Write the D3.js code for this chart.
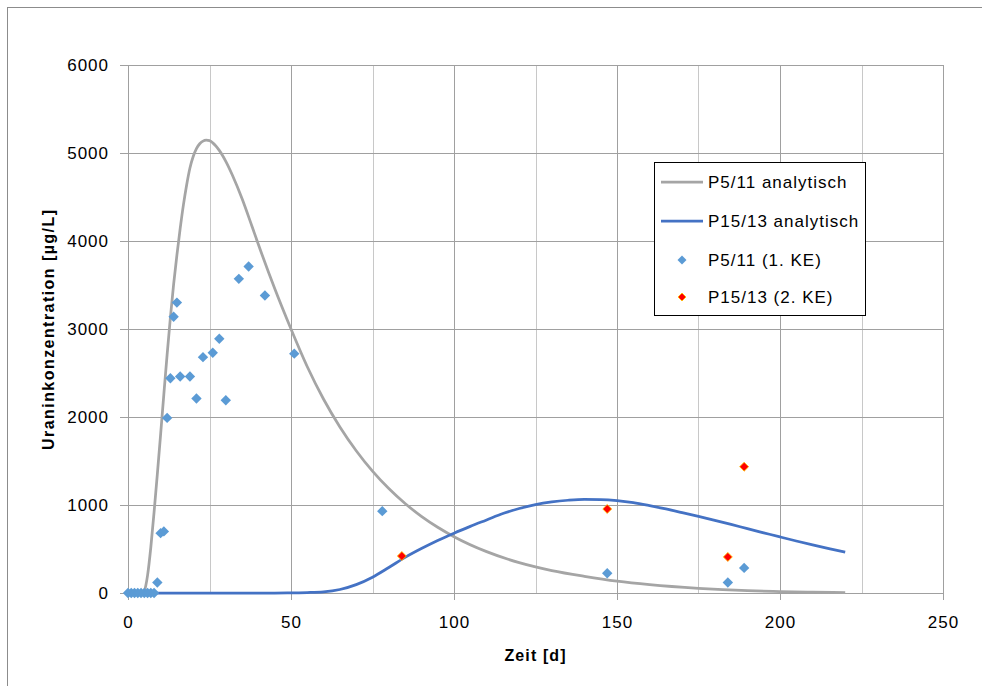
<!DOCTYPE html>
<html>
<head>
<meta charset="utf-8">
<script src="https://cdn.jsdelivr.net/npm/d3@7"></script>
<style>
  html, body { margin: 0; padding: 0; background: #fff; }
  svg { display: block; }
  text { font-family: "Liberation Sans", Arial, sans-serif; fill: #000; }
</style>
</head>
<body>
<svg id="chart" width="982" height="686"></svg>
<script>
// Analytical solution, well P5/11 (day, µg/L)
const p511AnaDays = [0, 2, 4, 4.7, 5, 6, 7, 8, 9, 10, 11, 12, 13, 14, 15, 16, 17, 18, 19, 20, 21, 22, 23, 24, 25, 26, 27, 28, 29, 30, 32, 35, 38, 40, 45, 50, 55, 60, 65, 70, 75, 80, 85, 90, 95, 100, 110, 120, 125, 130, 140, 150, 160, 175, 190, 200, 210, 220];
const p511AnaVals = [0, 0, 0, 0, 20, 200, 520, 920, 1350, 1800, 2260, 2710, 3130, 3510, 3840, 4140, 4410, 4640, 4830, 4960, 5050, 5105, 5135, 5145, 5140, 5115, 5078, 5030, 4972, 4905, 4750, 4480, 4170, 3960, 3460, 3000, 2571, 2202, 1887, 1617, 1385, 1187, 1017, 871, 747, 640, 470, 345, 296, 255, 190, 135, 95, 53, 26, 16, 9, 5];

// Analytical solution, well P15/13
const p1513AnaDays = [0, 10, 20, 30, 40, 45, 50, 55, 60, 65, 70, 75, 80, 85, 90, 95, 100, 105, 110, 115, 120, 125, 130, 135, 140, 145, 150, 155, 160, 165, 170, 175, 180, 185, 190, 195, 200, 205, 210, 215, 220];
const p1513AnaVals = [0, 0, 0, 0, 0, 0, 2, 5, 13, 40, 95, 180, 290, 405, 505, 597, 680, 757, 830, 903, 960, 1005, 1035, 1054, 1064, 1062, 1050, 1027, 993, 955, 913, 870, 825, 779, 731, 684, 637, 591, 547, 505, 465];

// Measurements P5/11 (1. KE)
const p511MeasDays = [0, 1, 2, 3, 4, 5, 6, 7, 8, 9, 10, 11, 12, 13, 14, 15, 16, 19, 21, 23, 26, 28, 30, 34, 37, 42, 51, 78, 147, 184, 189];
const p511MeasVals = [0, 0, 0, 0, 0, 0, 0, 0, 0, 120, 680, 700, 1990, 2440, 3140, 3300, 2460, 2460, 2210, 2680, 2730, 2890, 2190, 3570, 3710, 3380, 2720, 930, 225, 120, 285];

// Measurements P15/13 (2. KE)
const p1513MeasDays = [84, 147, 184, 189];
const p1513MeasVals = [420, 955, 410, 1435];

// Axis ticks
const xMajorTicks = [0, 50, 100, 150, 200, 250];
const xMinorTicks = [25, 75, 125, 175, 225];
const yTicks = [0, 1000, 2000, 3000, 4000, 5000, 6000];

const legendLabels = ["P5/11 analytisch", "P15/13 analytisch", "P5/11 (1. KE)", "P15/13 (2. KE)"];

const colGray = "#a5a5a5";
const colBlueLine = "#4472c4";
const colBlueMark = "#5b9bd5";
const colRed = "#ff0000";
const colRedEdge = "#ffc000";

const svg = d3.select("#chart");

// chart frame
svg.append("rect")
  .attr("x", 7.5).attr("y", 7.5)
  .attr("width", 1000).attr("height", 1000)
  .attr("fill", "#fff").attr("stroke", "#8c8c8c").attr("stroke-width", 1);

const plot = { left: 128, right: 943, top: 65, bottom: 593 };

const x = d3.scaleLinear().domain([0, 250]).range([plot.left, plot.right]);
const y = d3.scaleLinear().domain([0, 6000]).range([plot.bottom, plot.top]);

const grid = svg.append("g").attr("shape-rendering", "crispEdges");

// vertical gridlines
grid.selectAll("line.vmin").data(xMinorTicks).join("line")
  .attr("x1", d => Math.round(x(d)) + 0.5).attr("x2", d => Math.round(x(d)) + 0.5)
  .attr("y1", plot.top).attr("y2", plot.bottom)
  .attr("stroke", "#c8c8c8").attr("stroke-width", 1);
grid.selectAll("line.vmaj").data(xMajorTicks).join("line")
  .attr("x1", d => Math.round(x(d)) + 0.5).attr("x2", d => Math.round(x(d)) + 0.5)
  .attr("y1", plot.top).attr("y2", plot.bottom + 7)
  .attr("stroke", "#a0a0a0").attr("stroke-width", 1);

// horizontal gridlines with left ticks
grid.selectAll("line.h").data(yTicks).join("line")
  .attr("x1", plot.left - 8).attr("x2", plot.right)
  .attr("y1", d => Math.round(y(d)) + 0.5).attr("y2", d => Math.round(y(d)) + 0.5)
  .attr("stroke", "#a0a0a0").attr("stroke-width", 1);

// axes (labels only; lines drawn above as gridlines)
const xAxis = d3.axisBottom(x).tickValues(xMajorTicks).tickSize(0).tickPadding(0).tickFormat(d3.format("d"));
const gx = svg.append("g").attr("transform", `translate(0,${plot.bottom})`).call(xAxis);
gx.select(".domain").remove();
gx.selectAll("text")
  .attr("y", 35).attr("dy", null)
  .style("font-family", "'Liberation Sans', Arial, sans-serif")
  .style("font-size", "17px").style("letter-spacing", "1px").attr("fill", "#000");

const yAxis = d3.axisLeft(y).tickValues(yTicks).tickSize(0).tickPadding(0).tickFormat(d3.format("d"));
const gy = svg.append("g").attr("transform", `translate(${plot.left},0)`).call(yAxis);
gy.select(".domain").remove();
gy.selectAll("text")
  .attr("x", -19).attr("dy", "0.35em")
  .style("font-family", "'Liberation Sans', Arial, sans-serif")
  .style("font-size", "17px").style("letter-spacing", "1px").attr("fill", "#000");

// axis titles
svg.append("text")
  .attr("x", 535).attr("y", 661)
  .attr("text-anchor", "middle")
  .style("font-size", "16px").style("font-weight", "bold")
  .attr("textLength", 61).attr("lengthAdjust", "spacing")
  .text("Zeit [d]");

svg.append("text")
  .attr("transform", "translate(54,330) rotate(-90)")
  .attr("text-anchor", "middle")
  .style("font-size", "16px").style("font-weight", "bold")
  .attr("textLength", 240).attr("lengthAdjust", "spacing")
  .text("Uraninkonzentration  [µg/L]");

// analytical curves
const line = d3.line().x(d => x(d[0])).y(d => y(d[1])).curve(d3.curveMonotoneX);

svg.append("path")
  .datum(d3.zip(p511AnaDays, p511AnaVals))
  .attr("d", line)
  .attr("fill", "none").attr("stroke", colGray).attr("stroke-width", 2.75)
  .attr("stroke-linejoin", "round");

svg.append("path")
  .datum(d3.zip(p1513AnaDays, p1513AnaVals))
  .attr("d", line)
  .attr("fill", "none").attr("stroke", colBlueLine).attr("stroke-width", 2.75)
  .attr("stroke-linejoin", "round");

// measurement markers (diamonds)
const diamondBlue = d3.symbol(d3.symbolSquare, 54)();
const diamondRed = d3.symbol(d3.symbolSquare, 40)();

svg.append("g").selectAll("path")
  .data(d3.zip(p511MeasDays, p511MeasVals)).join("path")
  .attr("d", diamondBlue)
  .attr("transform", d => `translate(${x(d[0])},${y(d[1])}) rotate(45)`)
  .attr("fill", colBlueMark);

svg.append("g").selectAll("path")
  .data(d3.zip(p1513MeasDays, p1513MeasVals)).join("path")
  .attr("d", diamondRed)
  .attr("transform", d => `translate(${x(d[0])},${y(d[1])}) rotate(45)`)
  .attr("fill", colRed).attr("stroke", colRedEdge).attr("stroke-width", 0.8);

// legend
const lg = svg.append("g");
lg.append("rect")
  .attr("x", 654.5).attr("y", 162.5).attr("width", 211).attr("height", 153)
  .attr("fill", "#fff").attr("stroke", "#000").attr("stroke-width", 1)
  .attr("shape-rendering", "crispEdges");

const rowY = [182, 221, 260, 297];
lg.append("line").attr("x1", 661).attr("x2", 703).attr("y1", rowY[0]).attr("y2", rowY[0])
  .attr("stroke", colGray).attr("stroke-width", 2.75);
lg.append("line").attr("x1", 661).attr("x2", 703).attr("y1", rowY[1]).attr("y2", rowY[1])
  .attr("stroke", colBlueLine).attr("stroke-width", 2.75);
lg.append("path").attr("d", d3.symbol(d3.symbolSquare, 40)())
  .attr("transform", `translate(682,${rowY[2]}) rotate(45)`).attr("fill", colBlueMark);
lg.append("path").attr("d", d3.symbol(d3.symbolSquare, 32)())
  .attr("transform", `translate(682,${rowY[3]}) rotate(45)`)
  .attr("fill", colRed).attr("stroke", colRedEdge).attr("stroke-width", 0.8);

lg.selectAll("text.lab").data(legendLabels).join("text")
  .attr("x", 708).attr("y", (d, i) => rowY[i]).attr("dy", "0.36em")
  .style("font-size", "17px").style("letter-spacing", "1px")
  .text(d => d);
</script>
</body>
</html>
